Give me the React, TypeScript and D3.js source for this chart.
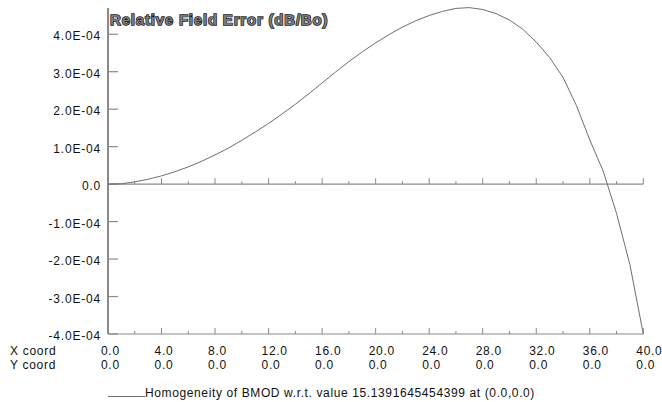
import React from "react";
import * as d3 from "d3";

const xs: number[] = d3.range(0, 41, 1);
const vals: number[] = [
  0, 0.01, 0.06, 0.13, 0.22, 0.33, 0.46, 0.61, 0.78, 0.96,
  1.17, 1.39, 1.62, 1.87, 2.13, 2.41, 2.7, 2.99, 3.27, 3.53,
  3.77, 3.99, 4.19, 4.36, 4.5, 4.61, 4.69, 4.71, 4.66, 4.55,
  4.38, 4.13, 3.79, 3.38, 2.85, 2.1, 1.18, 0.35, -0.78, -2.15, -4.0,
].map((v) => v * 1e-4);

const yTicks: number[] = [-4e-4, -3e-4, -2e-4, -1e-4, 0, 1e-4, 2e-4, 3e-4, 4e-4];
const yTickLabels: string[] = ["-4.0E-04", "-3.0E-04", "-2.0E-04", "-1.0E-04", "0.0", "1.0E-04", "2.0E-04", "3.0E-04", "4.0E-04"];
const xMajor: number[] = [0, 4, 8, 12, 16, 20, 24, 28, 32, 36, 40];
const xLabels: string[] = ["0.0", "4.0", "8.0", "12.0", "16.0", "20.0", "24.0", "28.0", "32.0", "36.0", "40.0"];
const yCoordLabels: string[] = ["0.0", "0.0", "0.0", "0.0", "0.0", "0.0", "0.0", "0.0", "0.0", "0.0", "0.0"];
const xMinor: number[] = d3.range(2, 40, 4);
const title = "Relative Field Error (dB/Bo)";
const legendText = "Homogeneity of BMOD w.r.t. value 15.1391645454399 at (0.0,0.0)";

export default function App() {
  const x = d3.scaleLinear().domain([0, 40]).range([108, 643.3]);
  const y = d3.scaleLinear().domain([-4e-4, 4.7e-4]).range([334, 8]);
  const line = d3
    .line<number>()
    .x((_, i) => x(xs[i]))
    .y((d) => y(d));
  const axisColor = "#8a8a8a";
  const font = "'Liberation Sans', Arial, Helvetica, sans-serif";
  const y0 = y(0);
  const yB = y(-4e-4);
  const tickRows = [y0, yB];
  return (
    <svg
      width={662}
      height={402}
      style={{ position: "absolute", left: 0, top: 0, background: "#fff" }}
      fontFamily={font}
    >
      {tickRows.map((ty, k) => (
        <g key={"row" + k}>
          <line x1={x(0)} x2={x(40)} y1={ty} y2={ty} stroke={axisColor} strokeWidth={1.2} />
          {xMajor.map((t) => (
            <line key={"M" + t} x1={x(t)} x2={x(t)} y1={ty} y2={ty - 6} stroke={axisColor} strokeWidth={1} />
          ))}
          {xMinor.map((t) => (
            <line key={"m" + t} x1={x(t)} x2={x(t)} y1={ty} y2={ty - 3} stroke={axisColor} strokeWidth={1} />
          ))}
        </g>
      ))}
      <line x1={x(0)} x2={x(0)} y1={y(4.7e-4)} y2={yB} stroke={axisColor} strokeWidth={2} />
      {yTicks.map((t, i) => (
        <g key={"yt" + i}>
          <line x1={x(0)} x2={x(0) + 10} y1={y(t)} y2={y(t)} stroke={axisColor} strokeWidth={1.2} />
          <text x={101} y={y(t) + 6} textAnchor="end" fontSize={12} letterSpacing={0.8} fill="#111">
            {yTickLabels[i]}
          </text>
        </g>
      ))}
      <path d={line(vals) || ""} fill="none" stroke="#6e6e6e" strokeWidth={1} />
      <text
        x={110}
        y={25}
        fontSize={15}
        fontWeight="bold"
        letterSpacing={0.8}
        fill="#7a7a7a"
        stroke="#1a1a1a"
        strokeWidth={1.4}
        style={{ paintOrder: "stroke" }}
      >
        {title}
      </text>
      <text x={10} y={355} fontSize={12} letterSpacing={0.7} fill="#111">X coord</text>
      <text x={10} y={369} fontSize={12} letterSpacing={0.7} fill="#111">Y coord</text>
      {xMajor.map((t, i) => (
        <g key={"xl" + i}>
          <text x={x(t) - 7} y={355} fontSize={12} letterSpacing={0.7} fill="#111">{xLabels[i]}</text>
          <text x={x(t) - 7} y={369} fontSize={12} letterSpacing={0.7} fill="#111">{yCoordLabels[i]}</text>
        </g>
      ))}
      <line x1={108} x2={145} y1={396.5} y2={396.5} stroke="#6e6e6e" strokeWidth={1} />
      <text x={145} y={397} fontSize={12} letterSpacing={0.62} fill="#111">{legendText}</text>
    </svg>
  );
}
